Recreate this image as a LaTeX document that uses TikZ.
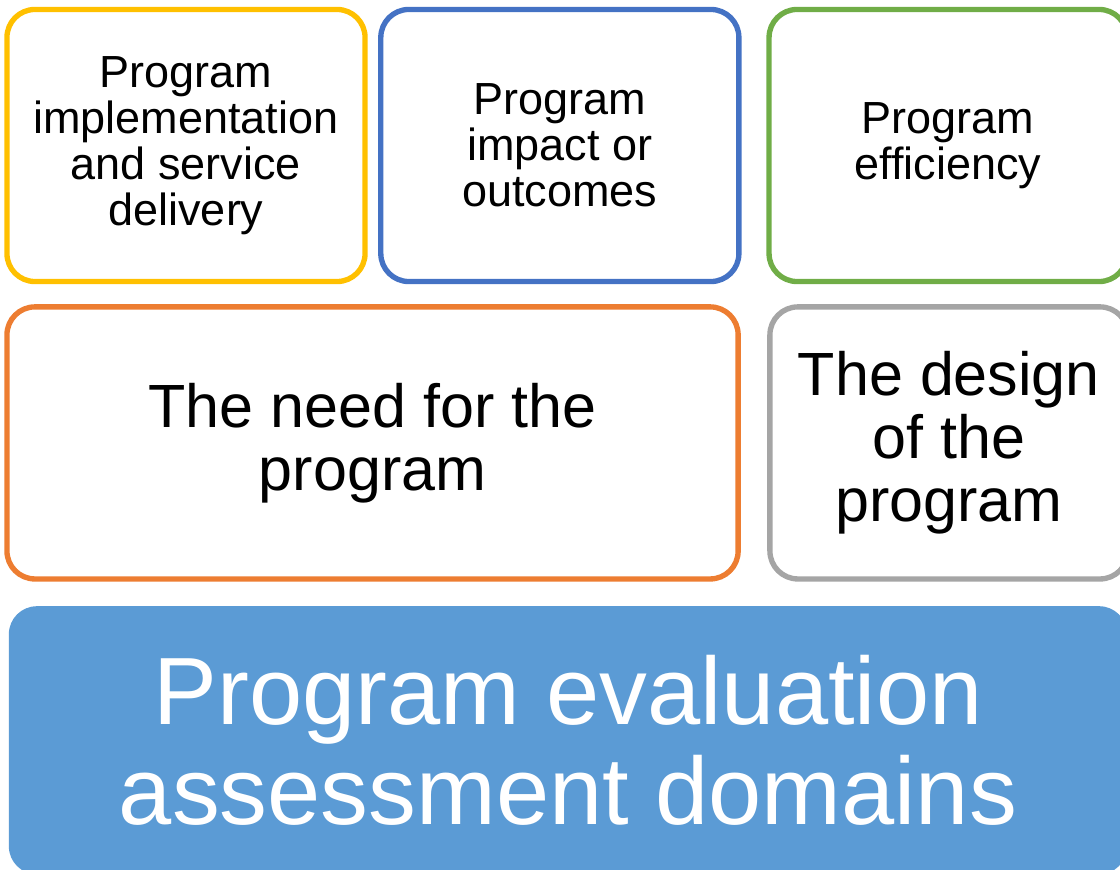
\documentclass[tikz,border=0pt]{standalone}
\usepackage{fontspec}
\setmainfont{Liberation Sans}
\usepackage{tikz}
\usetikzlibrary{positioning}

\definecolor{boxyellow}{HTML}{FFC000}
\definecolor{boxblue}{HTML}{4472C4}
\definecolor{boxgreen}{HTML}{70AD47}
\definecolor{boxorange}{HTML}{ED7D31}
\definecolor{boxgray}{HTML}{A5A5A5}
\definecolor{basefill}{HTML}{5B9BD5}

\begin{document}
\begin{tikzpicture}[
    x=0.0125cm, y=-0.0125cm,
    domainbox/.style = {draw=#1, line width=1.9pt, rounded corners=0.35cm, align=center,
                        minimum width=4.475cm, minimum height=3.4cm, inner sep=2pt},
    smalltext/.style = {font=\fontsize{16}{16.4}\selectfont},
    largetext/.style = {font=\fontsize{21.7}{22.3}\selectfont},
    basebox/.style = {fill=basefill, text=white, rounded corners=0.35cm, align=center,
                      minimum width=13.975cm, minimum height=3.35cm,
                      font=\fontsize{34}{35.5}\selectfont}
  ]

  \useasboundingbox (0,0) rectangle (1120,870);

  % Top row of domains
  \node[domainbox=boxyellow, smalltext] (impl) at (186,145.5)
    {Program\\implementation\\and service\\delivery};

  \node[domainbox=boxblue, smalltext, right=0.13cm of impl] (impact)
    {Program\\impact or\\outcomes};

  \node[domainbox=boxgreen, smalltext, right=0.31cm of impact] (effic)
    {Program\\efficiency};

  % Middle row
  \node[domainbox=boxorange, largetext, minimum width=9.1375cm,
        below=0.25cm of impl.south west, anchor=north west] (need)
    {The need for the\\program};

  \node[domainbox=boxgray, largetext, right=0.33cm of need] (design)
    {The design\\of the\\program};

  % Base block
  \node[basebox, below=0.3cm of need.south west, anchor=north west, xshift=0.05cm] (eval)
    {Program evaluation\\assessment domains};

\end{tikzpicture}
\end{document}
